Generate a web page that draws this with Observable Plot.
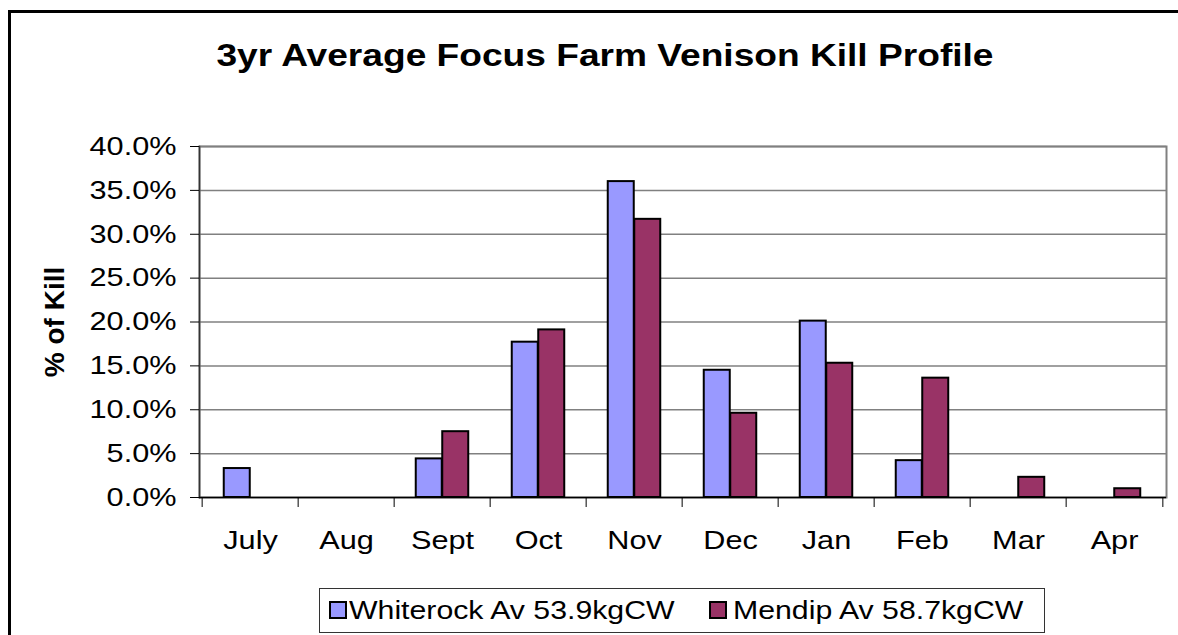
<!DOCTYPE html>
<html>
<head>
<meta charset="utf-8">
<script src="https://cdn.jsdelivr.net/npm/d3@7"></script>
<script src="https://cdn.jsdelivr.net/npm/@observablehq/plot@0.6"></script>
<style>
  html, body { margin: 0; padding: 0; background: #fff; overflow: hidden; font-family: "Liberation Sans", Arial, sans-serif; }
  #wrap { position: relative; width: 1178px; height: 635px; overflow: hidden; }
  #bTop { position: absolute; left: 8px; top: 10px; width: 1170px; height: 3px; background: #000; }
  #bLeft { position: absolute; left: 8px; top: 10px; width: 3px; height: 625px; background: #000; }
  #chart { position: absolute; left: 0; top: 0; }
  #title { position: absolute; left: 205px; width: 800px; top: 39px; text-align: center; font-weight: bold; font-size: 32px; line-height: 1; transform: scaleX(1.16); transform-origin: 50% 50%; white-space: nowrap; }
  #legend { position: absolute; left: 319px; top: 588px; width: 726px; height: 45px; border: 1px solid #333; box-sizing: border-box; background: #fff; }
  .sw { position: absolute; width: 18px; height: 18px; border: 2px solid #000; box-sizing: border-box; top: 12px; }
  .lt { position: absolute; top: 9px; font-size: 25px; line-height: 1; white-space: nowrap; transform: scaleX(1.21); transform-origin: 0 50%; }
</style>
</head>
<body>
<div id="wrap">
  <div id="bTop"></div>
  <div id="bLeft"></div>
  <div id="chart"></div>
  <div id="title"></div>
  <div id="legend"></div>
</div>
<script>
// ---- data ----
const title = "3yr Average Focus Farm Venison Kill Profile";
const yLabel = "% of Kill";
const months = ["July", "Aug", "Sept", "Oct", "Nov", "Dec", "Jan", "Feb", "Mar", "Apr"];
const seriesNames = ["Whiterock Av 53.9kgCW", "Mendip Av 58.7kgCW"];
const seriesColors = ["#9999FF", "#993366"];
const whiterock = [3.3, 0, 4.4, 17.7, 36.0, 14.5, 20.1, 4.2, 0, 0];   // % of kill
const mendip    = [0, 0, 7.5, 19.1, 31.7, 9.6, 15.3, 13.6, 2.3, 1.0];   // % of kill
const yTicks = [0, 5, 10, 15, 20, 25, 30, 35, 40];                     // %

// ---- build ----
const rowsW = months.map((m, i) => ({month: m, series: seriesNames[0], value: whiterock[i] / 100}));
const rowsM = months.map((m, i) => ({month: m, series: seriesNames[1], value: mendip[i] / 100}));
const ticks = yTicks.map(v => v / 100);

const W = 1178, H = 635;
const mL = 199, mR = 12, mT = 146, mB = 138;
const step = (W - mL - mR) / months.length;
const half = step * 0.137;

const chart = Plot.plot({
  width: W,
  height: H,
  marginLeft: mL,
  marginRight: mR,
  marginTop: mT,
  marginBottom: mB,
  style: {fontFamily: '"Liberation Sans", Arial, sans-serif', fontSize: "26px", color: "#000", background: "transparent"},
  x: {domain: months, paddingInner: 0.726, paddingOuter: 0.363, axis: null},
  y: {domain: [0, 0.4], axis: null},
  marks: [
    Plot.ruleY(ticks.slice(1), {stroke: "#808080", strokeWidth: 1.5}),
    Plot.frame({stroke: "#808080", strokeWidth: 2}),
    Plot.frame({anchor: "left", stroke: "#333", strokeWidth: 1.5}),
    Plot.barY(rowsW, {filter: d => d.value > 0, x: "month", y: "value", fill: seriesColors[0], stroke: "#000", strokeWidth: 2, dx: -half}),
    Plot.barY(rowsM, {filter: d => d.value > 0, x: "month", y: "value", fill: seriesColors[1], stroke: "#000", strokeWidth: 2, dx: half}),
    Plot.ruleY([0], {stroke: "#000", strokeWidth: 1.5}),
    Plot.axisY({ticks: ticks, tickFormat: d3.format(".1%"), tickSize: 9, tickPadding: 14, fontSize: 26, label: null, stroke: "#000"}),
    Plot.axisX({tickSize: 0, tickPadding: 33, fontSize: 26, label: null}),
    Plot.axisX({tickSize: 10, tickFormat: () => "", dx: -step / 2, label: null, stroke: "#000"}),
    Plot.axisX({ticks: [months[months.length - 1]], tickSize: 10, tickFormat: () => "", dx: step / 2, label: null, stroke: "#000"}),
    Plot.text([yLabel], {text: d => d, frameAnchor: "left", textAnchor: "middle", rotate: -90, dx: -144, fontWeight: "bold", fontSize: 28, ariaLabel: "ylabel"})
  ]
});

// stretch glyphs horizontally to match the reference's wide text
chart.querySelectorAll('g[aria-label="y-axis tick label"] text, g[aria-label="x-axis tick label"] text').forEach(t => {
  const tr = t.getAttribute("transform") || "";
  t.setAttribute("transform", tr + " scale(1.18,1)");
});
chart.querySelectorAll('g[aria-label="ylabel"] text').forEach(t => {
  const tr = t.getAttribute("transform") || "";
  t.setAttribute("transform", tr + " scale(1,1.18)");
});

document.getElementById("chart").appendChild(chart);
document.getElementById("title").textContent = title;

// legend
const legend = document.getElementById("legend");
const swX = [9, 389];
const txX = [29, 413];
seriesNames.forEach((name, i) => {
  const sw = document.createElement("div");
  sw.className = "sw";
  sw.style.left = swX[i] + "px";
  sw.style.background = seriesColors[i];
  legend.appendChild(sw);
  const tx = document.createElement("div");
  tx.className = "lt";
  tx.style.left = txX[i] + "px";
  tx.textContent = name;
  legend.appendChild(tx);
});
</script>
</body>
</html>
